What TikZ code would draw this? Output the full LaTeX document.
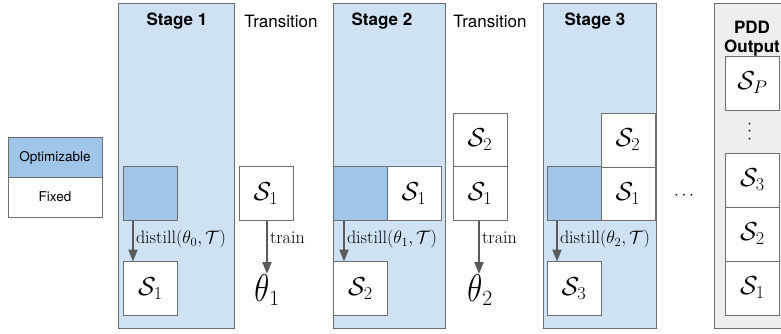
\RequirePackage{fix-cm}
\documentclass[tikz,border=0pt]{standalone}
\usepackage{fontspec}
\setsansfont{TeX Gyre Heros}
\usepackage{graphicx}
\usetikzlibrary{arrows.meta}
\definecolor{panelblue}{HTML}{CFE2F3}
\definecolor{optblue}{HTML}{9FC5E8}
\definecolor{panelgrey}{HTML}{EEEEEE}
\definecolor{edge}{HTML}{6E6E6E}
\definecolor{arrowc}{HTML}{5A5A5A}
\newcommand{\tallth}{\scalebox{1}[1.25]{$\theta$}}
\tikzset{
  panel/.style={draw=edge, line width=0.8pt, fill=panelblue},
  greypanel/.style={draw=edge, line width=0.8pt, fill=panelgrey},
  sbox/.style={draw=edge, line width=0.8pt, fill=white, minimum width=54pt, minimum height=54pt, inner sep=0pt, font=\fontsize{26}{30}\selectfont},
  obox/.style={sbox, fill=optblue},
  title/.style={font=\sffamily\bfseries\fontsize{17}{19}\selectfont},
  trans/.style={font=\sffamily\fontsize{17}{19}\selectfont},
  lbl/.style={font=\fontsize{18}{20}\selectfont, anchor=west, inner sep=2pt},
  arr/.style={draw=arrowc, line width=2pt, -{Triangle[length=12pt,width=9pt]}},
  theta/.style={font=\fontsize{31}{36}\selectfont, inner sep=0pt, anchor=base},
  leg/.style={draw=edge, line width=0.8pt, minimum width=94pt, minimum height=40pt, inner sep=0pt, font=\sffamily\fontsize{13.5}{15}\selectfont},
  dotsty/.style={font=\fontsize{17}{20}\selectfont, inner sep=0pt}
}
\begin{document}
\begin{tikzpicture}[x=1pt,y=-1pt]
\useasboundingbox (0,0) rectangle (781,333);
\begin{scope}
\clip (0,0) rectangle (781,333);
% legend
\node[leg, fill=optblue] (legopt) at (55,157.5) {Optimizable};
\node[leg, fill=white] (legfix) at (55,197) {Fixed};
% panels
\node[panel, minimum width=116pt, minimum height=325pt, inner sep=0pt] (p1) at (176.3,165.5) {};
\node[panel, minimum width=112pt, minimum height=325pt, inner sep=0pt] (p2) at (389.2,165.5) {};
\node[panel, minimum width=113.5pt, minimum height=325pt, inner sep=0pt] (p3) at (600,165.5) {};
\node[greypanel, minimum width=80pt, minimum height=325pt, inner sep=0pt] (p4) at (754,165.5) {};
% titles
\node[title] (t1) at (177,21) {Stage 1};
\node[trans] (tr1) at (281,21) {Transition};
\node[title] (t2) at (382,21) {Stage 2};
\node[trans] (tr2) at (490,21) {Transition};
\node[title] (t3) at (595,21) {Stage 3};
\node[title, align=center, font=\sffamily\bfseries\fontsize{17}{19.5}\selectfont] (t4) at (752,38.5) {PDD\\Output};
% stage 1
\node[obox] (o1) at (150.5,193.5) {};
\node[sbox] (s1a) at (150.5,288.5) {$\mathcal{S}_1$};
% transition 1
\node[sbox] (s1b) at (266,193.5) {$\mathcal{S}_1$};
\node[theta] (th1) at (267,301) {$\tallth_1$};
% stage 2
\node[obox] (o2) at (360,193.5) {};
\node[sbox] (s1c) at (414,193.5) {$\mathcal{S}_1$};
\node[sbox] (s2a) at (360.5,288.5) {$\mathcal{S}_2$};
% transition 2
\node[sbox] (s2b) at (480,140) {$\mathcal{S}_2$};
\node[sbox] (s1d) at (480,193.5) {$\mathcal{S}_1$};
\node[theta] (th2) at (480,301) {$\tallth_2$};
% stage 3
\node[obox] (o3) at (574,193.5) {};
\node[sbox] (s1e) at (628,193.5) {$\mathcal{S}_1$};
\node[sbox] (s2c) at (628,140) {$\mathcal{S}_2$};
\node[sbox] (s3a) at (574,288.5) {$\mathcal{S}_3$};
% dots
\node[dotsty] (dots) at (684,196) {$\cdots$};
% output stack
\node[sbox] (sp) at (752.5,83) {$\mathcal{S}_P$};
\node[dotsty] (vd) at (750,131.5) {\rotatebox{90}{$\cdots$}};
\node[sbox] (so3) at (752.5,180) {$\mathcal{S}_3$};
\node[sbox] (so2) at (752.5,234) {$\mathcal{S}_2$};
\node[sbox] (so1) at (752.5,288) {$\mathcal{S}_1$};
% arrows
\coordinate (a1s) at (133,220.5);
\coordinate (a1e) at (133,261.5);
\draw[arr] (a1s) -- node[lbl, pos=0.45] (l1) {distill$(\theta_0,\mathcal{T})$} (a1e);
\coordinate (b1s) at (267,220.5);
\coordinate (b1e) at (267,274);
\draw[arr] (b1s) -- node[lbl, pos=0.33] (l2) {train} (b1e);
\coordinate (a2s) at (344,220.5);
\coordinate (a2e) at (344,261.5);
\draw[arr] (a2s) -- node[lbl, pos=0.45] (l3) {distill$(\theta_1,\mathcal{T})$} (a2e);
\coordinate (b2s) at (479,220.5);
\coordinate (b2e) at (479,274);
\draw[arr] (b2s) -- node[lbl, pos=0.33] (l4) {train} (b2e);
\coordinate (a3s) at (557,220.5);
\coordinate (a3e) at (557,261.5);
\draw[arr] (a3s) -- node[lbl, pos=0.45] (l5) {distill$(\theta_2,\mathcal{T})$} (a3e);
\end{scope}
\end{tikzpicture}
\end{document}
